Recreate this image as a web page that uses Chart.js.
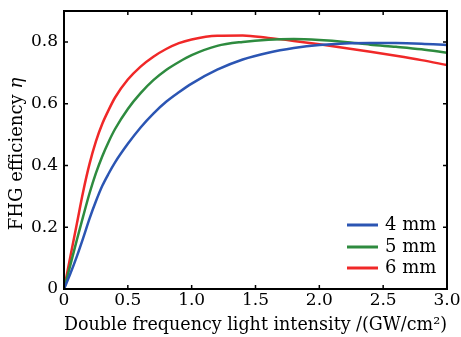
<!DOCTYPE html>
<html>
<head>
<meta charset="utf-8">
<script src="https://cdn.jsdelivr.net/npm/chart.js@4.4.0/dist/chart.umd.min.js"></script>
<style>
  html, body { margin: 0; background: #fff; }
  #wrap { width: 461px; height: 337px; }
</style>
</head>
<body>
<div id="wrap"><canvas id="chart"></canvas></div>
<script>
// values
const intensity = [0, 0.05, 0.1, 0.15, 0.2, 0.25, 0.3, 0.35, 0.4, 0.5, 0.6, 0.7, 0.8, 0.9, 1.0, 1.2, 1.4, 1.6, 1.8, 2.0, 2.2, 2.4, 2.6, 2.8, 3.0];
const eff4mm = [0, 0.05, 0.105, 0.165, 0.228, 0.284, 0.334, 0.374, 0.41, 0.47, 0.523, 0.568, 0.606, 0.637, 0.665, 0.71, 0.743, 0.765, 0.78, 0.79, 0.795, 0.796, 0.796, 0.794, 0.79];
const eff5mm = [0, 0.078, 0.158, 0.235, 0.31, 0.375, 0.43, 0.477, 0.518, 0.583, 0.634, 0.676, 0.709, 0.735, 0.757, 0.787, 0.8, 0.807, 0.809, 0.806, 0.8, 0.791, 0.784, 0.776, 0.765];
const eff6mm = [0, 0.105, 0.21, 0.315, 0.405, 0.478, 0.535, 0.58, 0.62, 0.678, 0.72, 0.752, 0.777, 0.796, 0.808, 0.82, 0.821, 0.813, 0.803, 0.792, 0.78, 0.768, 0.755, 0.741, 0.725];
const seriesNames = ["4 mm", "5 mm", "6 mm"];
const seriesColors = ["#2b55b3", "#2e8b3f", "#f02828"];
const xTicks = [0, 0.5, 1.0, 1.5, 2.0, 2.5, 3.0];
const xTickLabels = ["0", "0.5", "1.0", "1.5", "2.0", "2.5", "3.0"];
const yTicks = [0, 0.2, 0.4, 0.6, 0.8];
const yTickLabels = ["0", "0.2", "0.4", "0.6", "0.8"];

const FONT = "DejaVu Serif";

const toPoints = (ys) => intensity.map((x, i) => ({ x: x, y: ys[i] }));

// frame, inward ticks, y title and legend
const decorations = {
    id: "decorations",
    afterDraw(chart) {
        const { ctx, chartArea: a, scales } = chart;
        ctx.save();
        ctx.strokeStyle = "#000";
        ctx.lineWidth = 2;
        ctx.strokeRect(a.left, a.top, a.right - a.left, a.bottom - a.top);
        ctx.lineWidth = 1.5;
        ctx.beginPath();
        xTicks.forEach((v) => {
            const px = scales.x.getPixelForValue(v);
            ctx.moveTo(px, a.bottom); ctx.lineTo(px, a.bottom - 4);
            ctx.moveTo(px, a.top); ctx.lineTo(px, a.top + 4);
        });
        yTicks.forEach((v) => {
            const py = scales.y.getPixelForValue(v);
            ctx.moveTo(a.left, py); ctx.lineTo(a.left + 4, py);
            ctx.moveTo(a.right, py); ctx.lineTo(a.right - 4, py);
        });
        ctx.stroke();

        // y axis title with italic eta
        ctx.translate(17, 154);
        ctx.rotate(-Math.PI / 2);
        ctx.fillStyle = "#000";
        ctx.textBaseline = "middle";
        const t1 = "FHG efficiency ";
        ctx.font = "18px '" + FONT + "'";
        const w1 = ctx.measureText(t1).width;
        ctx.font = "italic 18px '" + FONT + "'";
        const w2 = ctx.measureText("η").width;
        const start = -(w1 + w2) / 2;
        ctx.font = "18px '" + FONT + "'";
        ctx.textAlign = "left";
        ctx.fillText(t1, start, 0);
        ctx.font = "italic 18px '" + FONT + "'";
        ctx.fillText("η", start + w1, 0);
        ctx.restore();

        // legend
        ctx.save();
        ctx.font = "18px '" + FONT + "'";
        ctx.textBaseline = "middle";
        ctx.fillStyle = "#000";
        const rows = [225, 247, 268];
        seriesNames.forEach((name, i) => {
            ctx.strokeStyle = seriesColors[i];
            ctx.lineWidth = 3;
            ctx.beginPath();
            ctx.moveTo(347, rows[i]); ctx.lineTo(378, rows[i]);
            ctx.stroke();
            ctx.fillText(name, 385, rows[i]);
        });
        ctx.restore();
    }
};

new Chart(document.getElementById("chart"), {
    type: "line",
    data: {
        datasets: [eff4mm, eff5mm, eff6mm].map((ys, i) => ({
            label: seriesNames[i],
            data: toPoints(ys),
            borderColor: seriesColors[i],
            borderWidth: 2.5,
            pointRadius: 0,
            cubicInterpolationMode: "monotone",
        })),
    },
    options: {
        responsive: true,
        maintainAspectRatio: false,
        animation: false,
        layout: { padding: { top: 11, right: 14, left: 0, bottom: 0 } },
        plugins: { legend: { display: false }, tooltip: { enabled: false } },
        scales: {
            x: {
                type: "linear",
                min: 0,
                max: 3,
                afterBuildTicks: (s) => { s.ticks = xTicks.map((v) => ({ value: v })); },
                afterFit: (s) => { s.height = 48; s.paddingLeft = 0; s.paddingRight = 0; },
                grid: { display: false, drawTicks: false },
                border: { display: false },
                ticks: {
                    padding: 1,
                    color: "#000",
                    font: { family: FONT, size: 17 },
                    maxRotation: 0,
                    callback: (v) => xTickLabels[xTicks.indexOf(v)],
                },
                title: {
                    display: true,
                    text: "Double frequency light intensity /(GW/cm²)",
                    color: "#000",
                    font: { family: FONT, size: 18 },
                    padding: { top: 0, bottom: 1 },
                },
            },
            y: {
                min: 0,
                max: 0.9,
                afterBuildTicks: (s) => { s.ticks = yTicks.map((v) => ({ value: v })); },
                afterFit: (s) => { s.width = 64; s.paddingTop = 0; s.paddingBottom = 0; },
                grid: { display: false, drawTicks: false },
                border: { display: false },
                ticks: {
                    padding: 6,
                    color: "#000",
                    font: { family: FONT, size: 17 },
                    callback: (v) => yTickLabels[yTicks.indexOf(v)],
                },
            },
        },
    },
    plugins: [decorations],
});
</script>
</body>
</html>
